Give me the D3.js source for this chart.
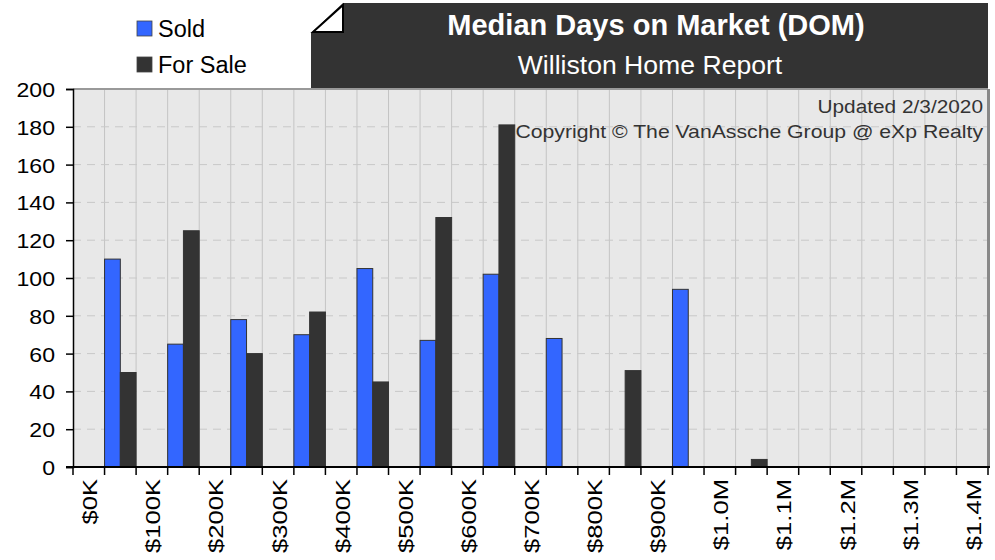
<!DOCTYPE html>
<html>
<head>
<meta charset="utf-8">
<script src="https://cdn.jsdelivr.net/npm/d3@7"></script>
<style>
  body { margin: 0; background: #fff; }
  svg { display: block; font-family: "Liberation Sans", Arial, Helvetica, sans-serif; }
</style>
</head>
<body>
<div id="chart"></div>
<script>
// price bands, every $50K
const categories = ["$0K","$50K","$100K","$150K","$200K","$250K","$300K","$350K","$400K","$450K",
  "$500K","$550K","$600K","$650K","$700K","$750K","$800K","$850K","$900K","$950K",
  "$1.0M","$1.05M","$1.1M","$1.15M","$1.2M","$1.25M","$1.3M","$1.35M","$1.4M"];
const soldDom    = [0,110,0,65,0,78,0,70,0,105,0,67,0,102,0,68,0,0,0,94,0,0,0,0,0,0,0,0,0];
const forSaleDom = [0,50,0,125,0,60,0,82,0,45,0,132,0,181,0,0,0,51,0,0,0,4,0,0,0,0,0,0,0];
const seriesNames = ["Sold", "For Sale"];
const yTicks = [0,20,40,60,80,100,120,140,160,180,200];

const width = 995, height = 560;
const plot = { left: 73, right: 988, top: 89, bottom: 467 };

const svg = d3.select("#chart").append("svg")
  .attr("width", width)
  .attr("height", height);

const color = d3.scaleOrdinal().domain(seriesNames).range(["#3366ff", "#333333"]);

const x = d3.scaleBand().domain(categories).range([plot.left, plot.right]).padding(0);
const xInner = d3.scaleBand().domain(seriesNames).range([0, x.bandwidth()]).padding(0);
const y = d3.scaleLinear().domain([0, 200]).range([plot.bottom, plot.top]);

// plot background
svg.append("rect")
  .attr("x", plot.left).attr("y", plot.top)
  .attr("width", plot.right - plot.left).attr("height", plot.bottom - plot.top)
  .attr("fill", "#e8e8e8");

// vertical grid at band edges
const edges = categories.map(c => x(c)).concat([plot.right]);
svg.append("g").selectAll("line")
  .data(edges.slice(1, -1))
  .join("line")
  .attr("x1", d => d).attr("x2", d => d)
  .attr("y1", plot.top).attr("y2", plot.bottom)
  .attr("stroke", "#c4c4c4").attr("stroke-width", 1);

// horizontal dashed grid
svg.append("g").selectAll("line")
  .data(yTicks.slice(1, -1))
  .join("line")
  .attr("x1", plot.left).attr("x2", plot.right)
  .attr("y1", d => y(d)).attr("y2", d => y(d))
  .attr("stroke", "#c8c8c8").attr("stroke-width", 1)
  .attr("stroke-dasharray", "8 6");

// top + right border
svg.append("line")
  .attr("x1", plot.left).attr("x2", plot.right)
  .attr("y1", plot.top).attr("y2", plot.top)
  .attr("stroke", "#999").attr("stroke-width", 2);
svg.append("line")
  .attr("x1", plot.right + 0.5).attr("x2", plot.right + 0.5)
  .attr("y1", plot.top).attr("y2", plot.bottom)
  .attr("stroke", "#888").attr("stroke-width", 3);

// bars
const rows = categories.map((c, i) => ({ cat: c, values: [
  { key: "Sold", value: soldDom[i] },
  { key: "For Sale", value: forSaleDom[i] }
]}));

svg.append("g").selectAll("g")
  .data(rows)
  .join("g")
  .attr("transform", d => `translate(${x(d.cat)},0)`)
  .selectAll("rect")
  .data(d => d.values.filter(v => v.value > 0))
  .join("rect")
  .attr("x", d => xInner(d.key))
  .attr("width", xInner.bandwidth())
  .attr("y", d => y(d.value))
  .attr("height", d => y(0) - y(d.value))
  .attr("fill", d => color(d.key))
  .attr("stroke", "#333")
  .attr("stroke-width", 1);

// y axis
const yAxis = svg.append("g")
  .attr("transform", `translate(${plot.left},0)`)
  .call(d3.axisLeft(y).tickValues(yTicks).tickSize(7).tickPadding(12));
yAxis.select(".domain").attr("stroke", "#000").attr("stroke-width", 1.5);
yAxis.selectAll(".tick line").attr("stroke", "#000").attr("stroke-width", 1.5);
yAxis.selectAll(".tick text")
  .attr("font-size", 21)
  .attr("fill", "#000")
  .attr("dy", null)
  .attr("x", null)
  .attr("transform", "translate(-18,7.5) scale(1.1,1)");

// x axis: labels at band centres, ticks at band edges
const xAxis = svg.append("g")
  .attr("transform", `translate(0,${plot.bottom})`)
  .call(d3.axisBottom(x).tickSize(0).tickFormat((d, i) => i % 2 ? "" : d));
xAxis.select(".domain").remove();
xAxis.selectAll(".tick text")
  .attr("font-size", 21)
  .attr("fill", "#000")
  .attr("text-anchor", "end")
  .attr("x", null).attr("y", null).attr("dy", null)
  .attr("transform", "translate(8.5,12) rotate(-90) scale(1.22,1)");

svg.append("g").selectAll("line")
  .data(edges)
  .join("line")
  .attr("x1", d => d).attr("x2", d => d)
  .attr("y1", plot.bottom).attr("y2", plot.bottom + 8)
  .attr("stroke", "#000").attr("stroke-width", 1.5);
svg.append("line")
  .attr("x1", plot.left - 7).attr("x2", plot.right + 2)
  .attr("y1", plot.bottom).attr("y2", plot.bottom)
  .attr("stroke", "#000").attr("stroke-width", 2);

// notes top right
svg.append("text")
  .attr("transform", "translate(983,113) scale(1.12,1)")
  .attr("text-anchor", "end")
  .attr("font-size", 18.6)
  .attr("fill", "#333")
  .text("Updated 2/3/2020");
svg.append("text")
  .attr("transform", "translate(983,138) scale(1.14,1)")
  .attr("text-anchor", "end")
  .attr("font-size", 18.6)
  .attr("fill", "#333")
  .text("Copyright \u00a9 The VanAssche Group @ eXp Realty");

// title box with folded corner
svg.append("path")
  .attr("d", "M343,3 L988,3 L988,88 L311,88 L311,33 Z")
  .attr("fill", "#333");
svg.append("path")
  .attr("d", "M313,32 L343,5 L343,32 Z")
  .attr("fill", "#fff")
  .attr("stroke", "#000")
  .attr("stroke-width", 2);

svg.append("text")
  .attr("x", 656).attr("y", 35)
  .attr("text-anchor", "middle")
  .attr("font-size", 29)
  .attr("font-weight", "bold")
  .attr("fill", "#fff")
  .text("Median Days on Market (DOM)");
svg.append("text")
  .attr("x", 650).attr("y", 74)
  .attr("text-anchor", "middle")
  .attr("font-size", 26.6)
  .attr("fill", "#fff")
  .text("Williston Home Report");

// legend
const legend = svg.append("g").selectAll("g")
  .data(seriesNames)
  .join("g")
  .attr("transform", (d, i) => `translate(137,${21 + i * 36})`);
legend.append("rect")
  .attr("width", 15).attr("height", 15)
  .attr("fill", d => color(d))
  .attr("stroke", "#444").attr("stroke-width", 0.8);
legend.append("text")
  .attr("x", 21).attr("y", 15.5)
  .attr("font-size", 23.5)
  .attr("fill", "#000")
  .text(d => d);
</script>
</body>
</html>
